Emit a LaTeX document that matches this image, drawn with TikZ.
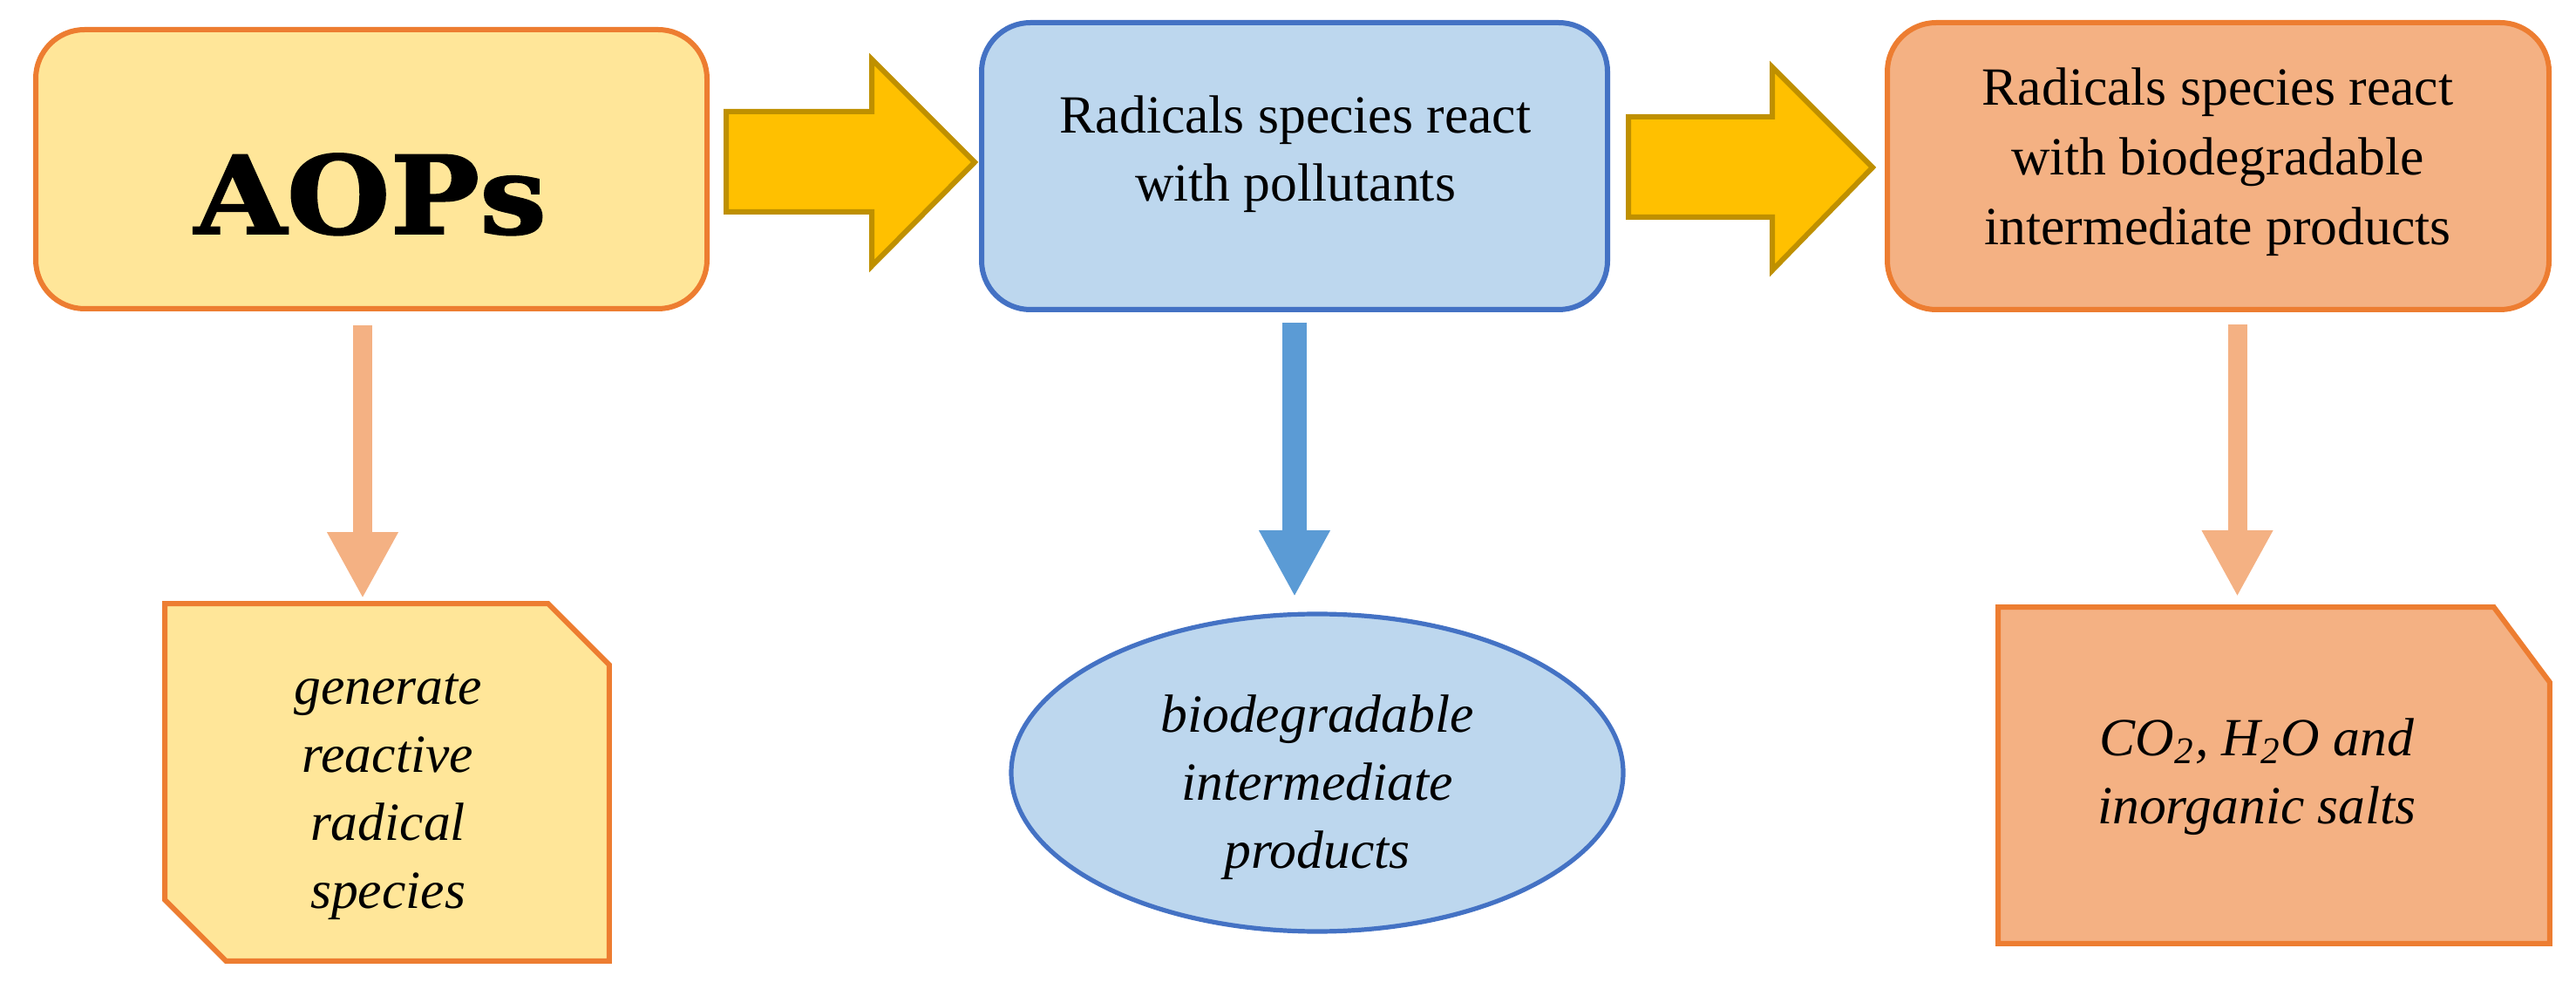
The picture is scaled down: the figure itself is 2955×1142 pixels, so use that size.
\documentclass[tikz,border=0pt]{standalone}
\usepackage{fontspec}
\usepackage{graphicx}
\setmainfont{Liberation Serif}
\newfontfamily\aopsfont{DejaVu Serif}[UprightFont=* Bold, UprightFeatures={FakeBold=1.5}]
\usetikzlibrary{shapes.geometric,arrows.meta,calc}
\definecolor{yfill}{HTML}{FFE699}
\definecolor{oline}{HTML}{ED7D31}
\definecolor{bfill}{HTML}{BDD7EE}
\definecolor{bline}{HTML}{4472C4}
\definecolor{pfill}{HTML}{F4B183}
\definecolor{gfill}{HTML}{FFC000}
\definecolor{gline}{HTML}{BF9000}
\definecolor{barrow}{HTML}{5B9BD5}
\begin{document}
\begin{tikzpicture}[x=0.25pt,y=-0.25pt,
  roundbox/.style={rectangle, rounded corners=14pt, line width=1.5pt, inner sep=0pt},
  anchorbox/.style={rectangle, inner sep=0pt},
  snipline/.style={line width=1.5pt, line join=miter},
  txt/.style={align=center, inner sep=0pt, font=\fontsize{15.4}{19.5}\selectfont},
  itxt/.style={align=center, inner sep=0pt, font=\fontsize{15.4}{19.5}\selectfont\itshape},
  blockarrow/.style={fill=gfill, draw=gline, line width=1.5pt, line join=miter},
  downarr/.style={line width=5.5pt, -{Triangle[length=19pt,width=19pt]}}
]
\useasboundingbox (0,0) rectangle (2955,1142);

% top boxes
\node[roundbox, fill=yfill, draw=oline, minimum width=192.5pt, minimum height=80pt] (aops) at (426,194) {};
\node[anchor=base, inner sep=0pt] (aopstext) at (425,268) {\aopsfont\fontsize{31}{31}\selectfont\scalebox{1.1}[1]{AOPs}};

\node[roundbox, fill=bfill, draw=bline, minimum width=179.5pt, minimum height=82.25pt] (react) at (1485,190.5) {};
\node[txt] (reacttext) at (1486,177) {Radicals species react\\with pollutants};

\node[roundbox, fill=pfill, draw=oline, minimum width=189.75pt, minimum height=82.25pt] (react2) at (2544.5,190.5) {};
\node[txt, font=\fontsize{15.4}{20}\selectfont] (react2text) at (2544,186) {Radicals species react\\with biodegradable\\intermediate products};

% block arrows
\draw[blockarrow] (833,128) -- (1000,128) -- (1000,68) -- (1118,186) -- (1000,305) -- (1000,243) -- (833,243) -- cycle;
\draw[blockarrow] (1868,134) -- (2033,134) -- (2033,77) -- (2148,192) -- (2033,310) -- (2033,249) -- (1868,249) -- cycle;

% bottom shapes
\node[anchorbox, minimum width=127pt, minimum height=102pt] (gen) at (444,897) {};
\draw[snipline, fill=yfill, draw=oline] (gen.north west) -- ($(gen.north east)+(-70,0)$) -- ($(gen.north east)+(0,70)$) -- (gen.south east) -- ($(gen.south west)+(70,0)$) -- ($(gen.south west)+(0,-70)$) -- cycle;
\node[itxt] (gentext) at (445,914) {generate\\reactive\\radical\\species};

\node[ellipse, fill=bfill, draw=bline, line width=1.3pt, minimum width=175.5pt, minimum height=91pt, inner sep=0pt] (bio) at (1511,886) {};
\node[itxt] (biotext) at (1511,903) {biodegradable\\intermediate\\products};

\node[anchorbox, minimum width=157.75pt, minimum height=96pt] (co2) at (2608.5,889) {};
\draw[snipline, fill=pfill, draw=oline] (co2.north west) -- ($(co2.north east)+(-64,0)$) -- ($(co2.north east)+(0,86)$) -- (co2.south east) -- (co2.south west) -- cycle;
\node[itxt] (co2text) at (2589,891) {CO\textsubscript{2}, H\textsubscript{2}O and\\inorganic salts};

% down arrows
\coordinate (d1) at ($(aops.south)+(-10,16)$);
\draw[downarr, pfill, shorten >=1.5pt] (d1) -- (d1 |- gen.north);
\coordinate (d2) at ($(react.south)+(0,12)$);
\draw[downarr, barrow, line width=6.8pt, shorten >=4.3pt] (d2) -- (d2 |- bio.north);
\coordinate (d3) at ($(react2.south)+(22,14)$);
\draw[downarr, pfill, shorten >=3pt] (d3) -- (d3 |- co2.north);
\end{tikzpicture}
\end{document}
